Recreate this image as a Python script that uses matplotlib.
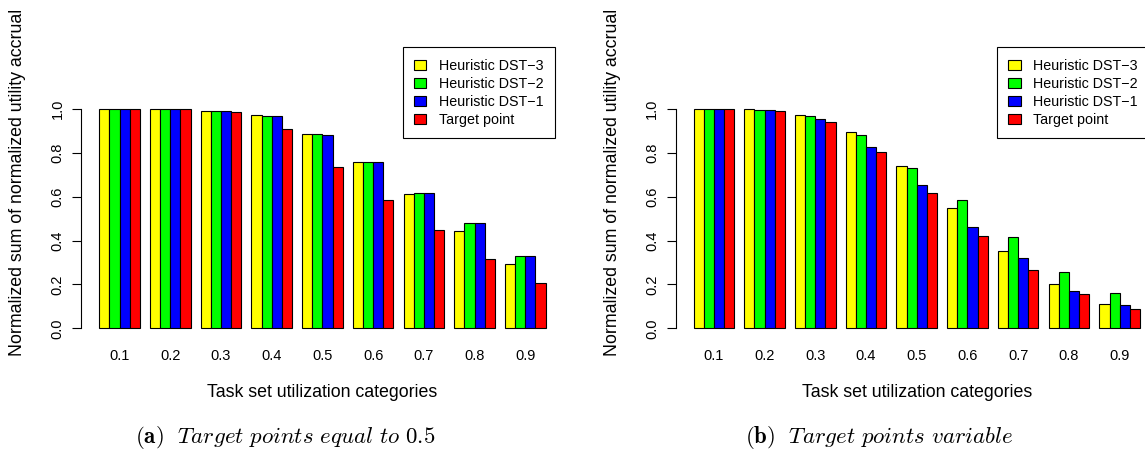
import matplotlib
matplotlib.use('Agg')
import matplotlib.pyplot as plt
import numpy as np

plt.rcParams['font.family'] = ['Liberation Sans', 'DejaVu Sans']
plt.rcParams['mathtext.fontset'] = 'cm'

categories = ['0.1', '0.2', '0.3', '0.4', '0.5', '0.6', '0.7', '0.8', '0.9']
series_names = ['Heuristic DST\u22123', 'Heuristic DST\u22122', 'Heuristic DST\u22121', 'Target point']
series_colors = ['#ffff00', '#00ff00', '#0000ff', '#ff0000']

# (a) target points equal to 0.5
left_dst3 = [1.0, 1.0, 0.992, 0.973, 0.888, 0.759, 0.612, 0.445, 0.293]
left_dst2 = [1.0, 1.0, 0.992, 0.967, 0.888, 0.759, 0.618, 0.479, 0.331]
left_dst1 = [1.0, 1.0, 0.992, 0.967, 0.882, 0.756, 0.618, 0.479, 0.331]
left_target = [1.0, 1.0, 0.985, 0.908, 0.735, 0.586, 0.448, 0.316, 0.207]

# (b) target points variable
right_dst3 = [1.0, 1.0, 0.971, 0.894, 0.738, 0.547, 0.352, 0.200, 0.109]
right_dst2 = [1.0, 0.997, 0.967, 0.880, 0.732, 0.585, 0.417, 0.255, 0.160]
right_dst1 = [1.0, 0.997, 0.955, 0.827, 0.655, 0.462, 0.319, 0.170, 0.105]
right_target = [1.0, 0.992, 0.942, 0.805, 0.618, 0.421, 0.266, 0.155, 0.088]

W, H = 1145, 461
fig = plt.figure(figsize=(W / 100, H / 100), dpi=100)


def px_rect(x0, x1, ytop, ybot):
    return [x0 / W, 1 - ybot / H, (x1 - x0) / W, (ybot - ytop) / H]


def draw_panel(ax, data, xoff):
    n = len(categories)
    for k, vals in enumerate(data):
        xs = 1 + 5 * np.arange(n) + k + 0.5  # R barplot beside layout
        ax.bar(xs, vals, width=1.0, color=series_colors[k], edgecolor='black',
               linewidth=0.8, label=series_names[k])
    ax.set_xlim(-0.76, 46.76)
    ax.set_ylim(-0.04, 1.04)
    for s in ['top', 'right', 'bottom']:
        ax.spines[s].set_visible(False)
    ax.spines['left'].set_bounds(0, 1)
    ax.spines['left'].set_linewidth(0.8)
    ax.set_yticks(np.arange(0, 1.01, 0.2))
    ax.set_yticklabels(['0.0', '0.2', '0.4', '0.6', '0.8', '1.0'], rotation=90, va='center')
    ax.tick_params(axis='y', length=6.5, width=0.8, pad=5.5, labelsize=10.5)
    ax.set_xticks(3 + 5 * np.arange(n))
    ax.set_xticklabels(categories)
    ax.tick_params(axis='x', length=0, pad=8.5, labelsize=10.5)
    ax.patch.set_visible(False)

    fig.text((322.5 + xoff) / W, 1 - 392 / H, 'Task set utilization categories',
             ha='center', va='center', fontsize=12.8)
    fig.text((18 + xoff) / W, 1 - 182.5 / H, 'Normalized sum of normalized utility accrual',
             ha='center', va='center', rotation=90, fontsize=12.8)
    leg = ax.legend(loc='upper left', bbox_to_anchor=((402.7 + xoff) / W, 1 - 47.3 / H),
                    bbox_transform=fig.transFigure, borderaxespad=0, fancybox=False,
                    edgecolor='black', framealpha=1, fontsize=10.3, handlelength=0.85,
                    handleheight=0.7, handletextpad=0.9, labelspacing=0.28, borderpad=0.8)
    leg.get_frame().set_linewidth(0.8)


ax1 = fig.add_axes(px_rect(81.4, 563.5, 100.2, 337.1))
draw_panel(ax1, [left_dst3, left_dst2, left_dst1, left_target], 0)

ax2 = fig.add_axes(px_rect(675.7, 1157.8, 100.2, 337.1))
draw_panel(ax2, [right_dst3, right_dst2, right_dst1, right_target], 594.3)

fig.text(285 / W, 1 - 437 / H, r'$\mathbf{(a)}\ \ \mathit{Target\ points\ equal\ to}\ 0.5$',
         ha='center', va='center', fontsize=16.5)
fig.text(879 / W, 1 - 437 / H, r'$\mathbf{(b)}\ \ \mathit{Target\ points\ variable}$',
         ha='center', va='center', fontsize=16.5)

fig.savefig('out.png', dpi=100)
